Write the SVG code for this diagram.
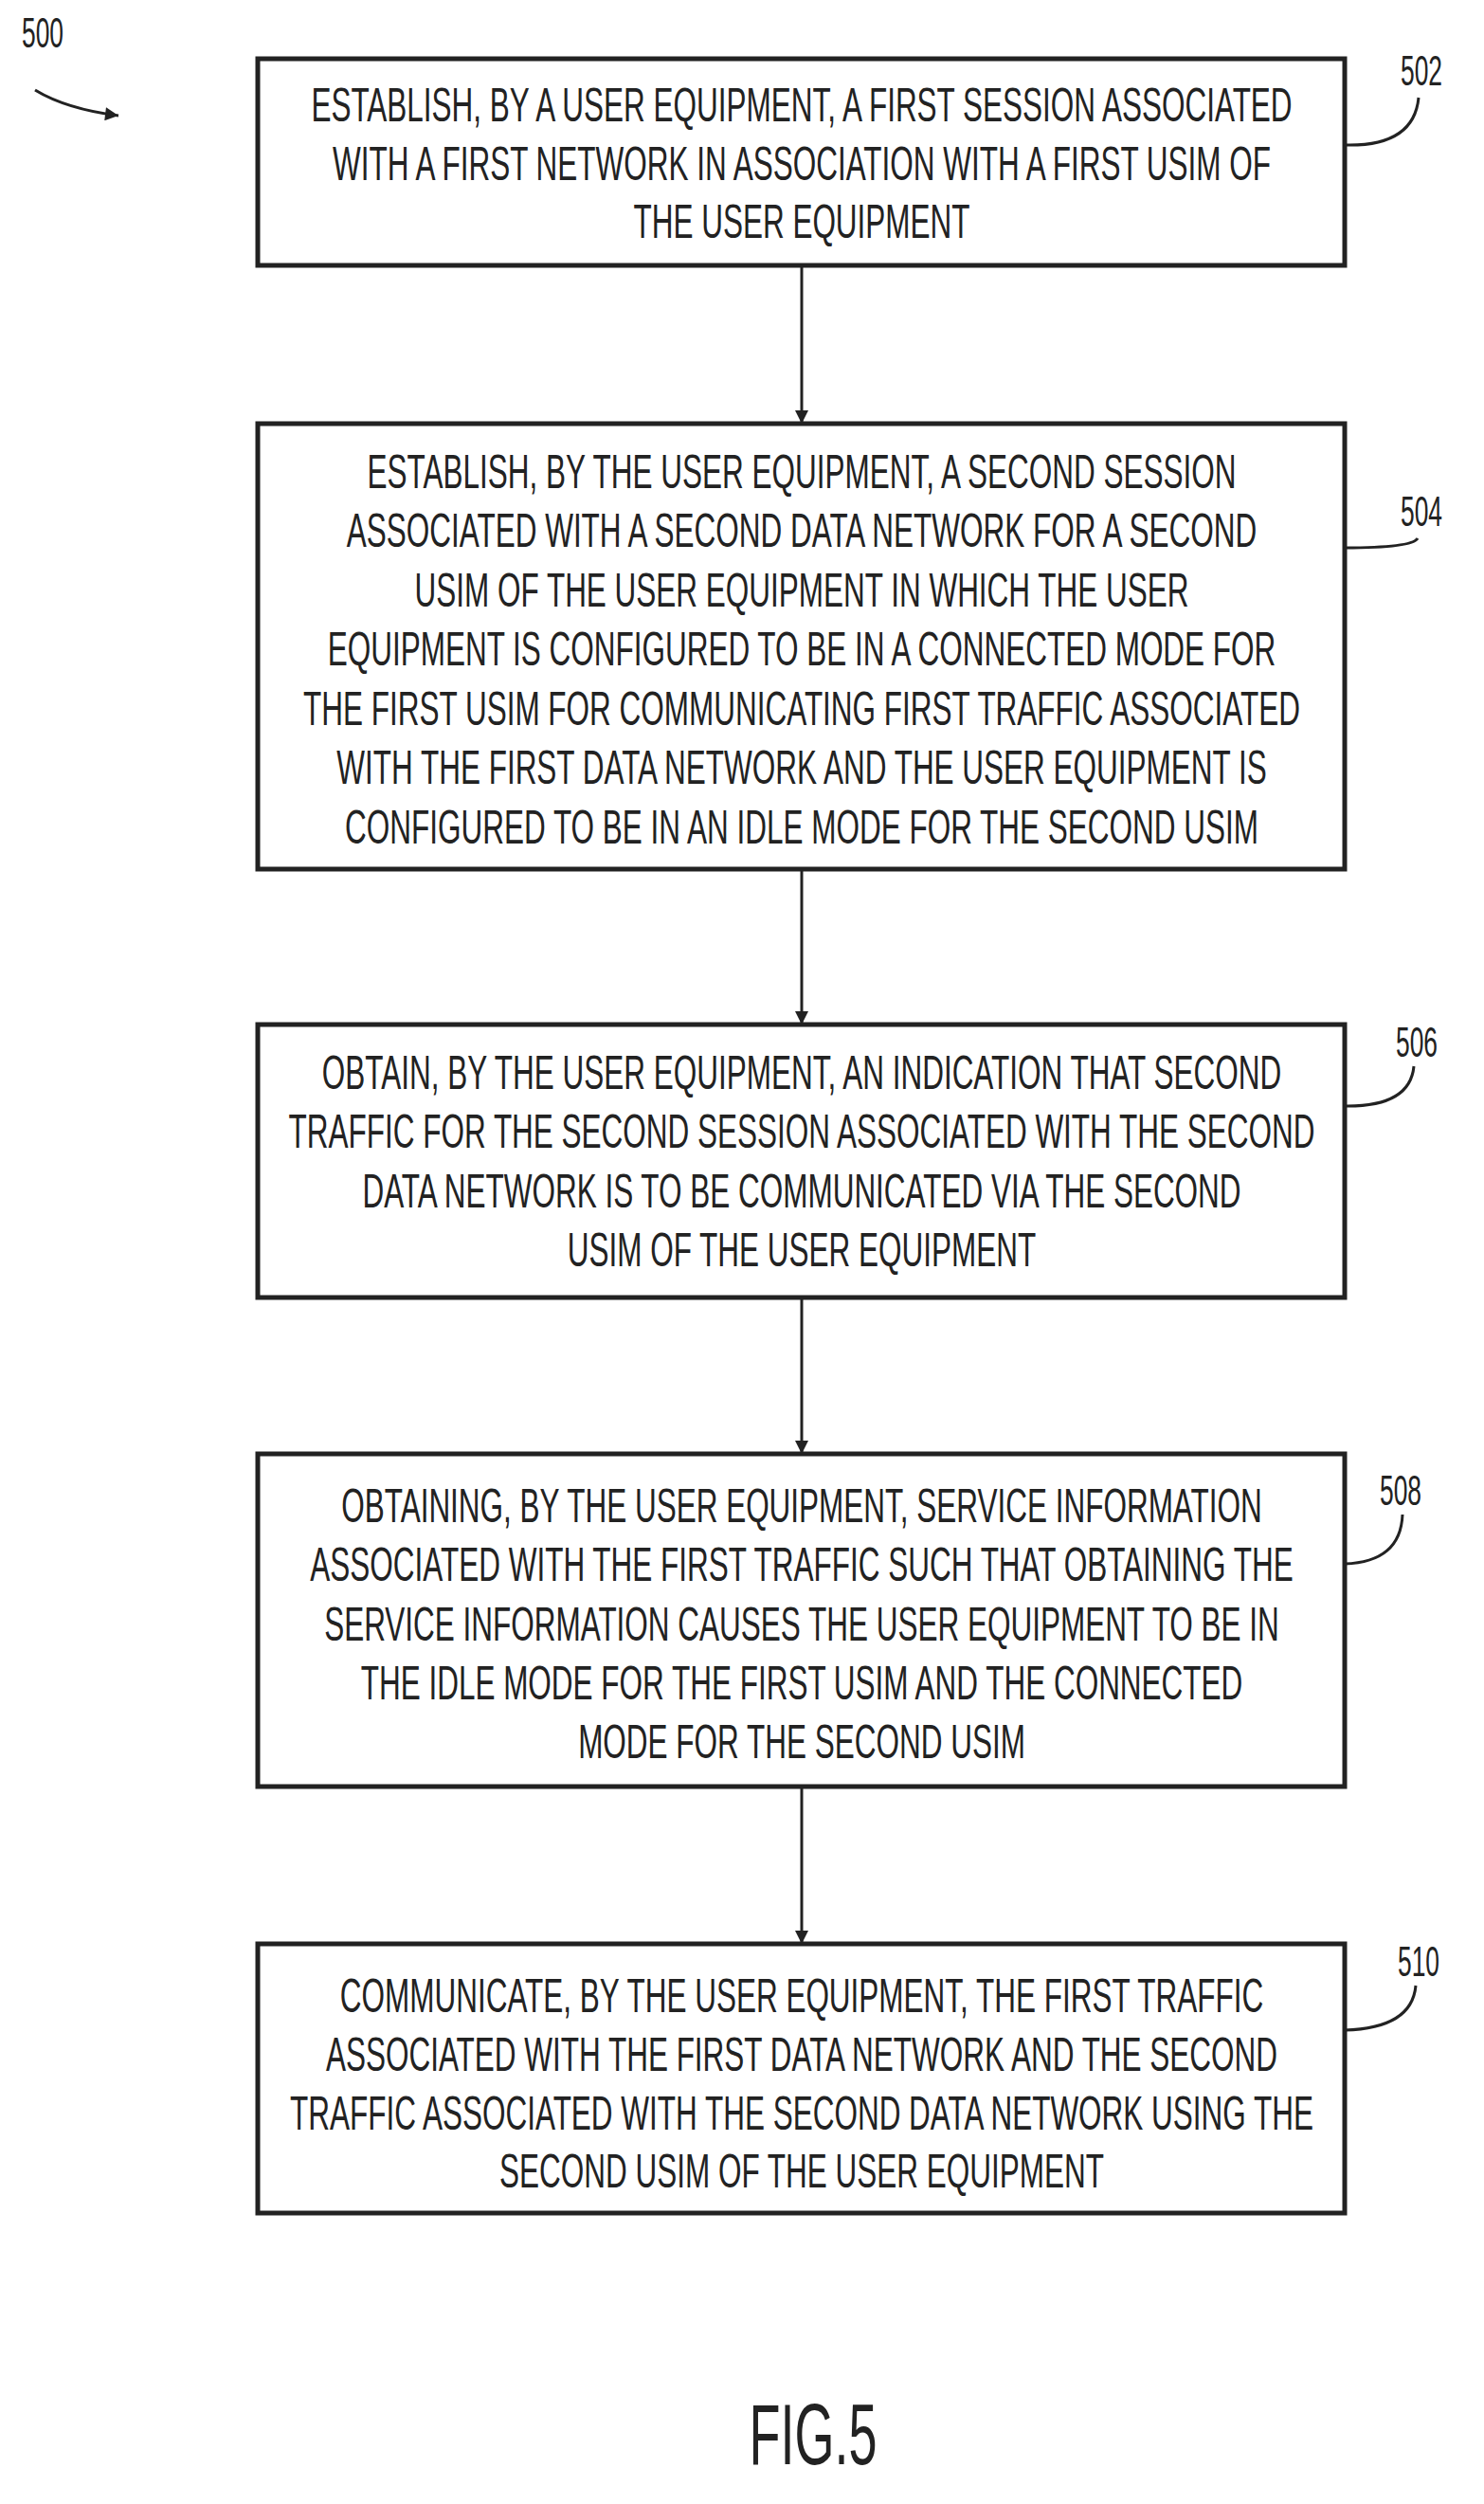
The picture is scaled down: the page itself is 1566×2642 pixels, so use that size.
<svg xmlns="http://www.w3.org/2000/svg" width="1566" height="2642" viewBox="0 0 1566 2642">
<style>
.box{fill:#fff;stroke:#222;stroke-width:5}
.t{font-family:"Liberation Sans",Arial,sans-serif;font-size:50px;fill:#222;text-anchor:middle}
.lab{font-family:"Liberation Sans",Arial,sans-serif;font-size:44px;fill:#222;text-anchor:middle}
.ln{fill:none;stroke:#222;stroke-width:3}
</style>
<defs><marker id="ah2" viewBox="0 0 10 10" refX="10" refY="5" markerWidth="18" markerHeight="14" orient="auto" markerUnits="userSpaceOnUse"><path d="M0,0 L10,5 L0,10 z" fill="#222"/></marker></defs>
<rect width="1566" height="2642" fill="#fff"/>
<g id="ref500"><text transform="translate(45 50) scale(0.6 1)" class="lab">500</text><path class="ln" d="M37,95 Q70,115 125,122" marker-end="url(#ah2)"/></g>
<g id="connectors">
<line class="ln" x1="846" y1="280" x2="846" y2="447" marker-end="url(#ah2)"/>
<line class="ln" x1="846" y1="917" x2="846" y2="1081" marker-end="url(#ah2)"/>
<line class="ln" x1="846" y1="1369" x2="846" y2="1534" marker-end="url(#ah2)"/>
<line class="ln" x1="846" y1="1885" x2="846" y2="2051" marker-end="url(#ah2)"/>
</g>
<g id="n502"><rect class="box" x="272" y="62" width="1147" height="218"/>
<g transform="translate(846 0) scale(0.63 1)"><text class="t" y="128">ESTABLISH, BY A USER EQUIPMENT, A FIRST SESSION ASSOCIATED</text><text class="t" y="190">WITH A FIRST NETWORK IN ASSOCIATION WITH A FIRST USIM OF</text><text class="t" y="251">THE USER EQUIPMENT</text></g>
<text transform="translate(1500 90) scale(0.6 1)" class="lab">502</text><path class="ln" d="M1419,153 Q1492,155 1497,103"/></g>
<g id="n504"><rect class="box" x="272" y="447" width="1147" height="470"/>
<g transform="translate(846 0) scale(0.63 1)"><text class="t" y="515">ESTABLISH, BY THE USER EQUIPMENT, A SECOND SESSION</text><text class="t" y="577">ASSOCIATED WITH A SECOND DATA NETWORK FOR A SECOND</text><text class="t" y="640">USIM OF THE USER EQUIPMENT IN WHICH THE USER</text><text class="t" y="702">EQUIPMENT IS CONFIGURED TO BE IN A CONNECTED MODE FOR</text><text class="t" y="765">THE FIRST USIM FOR COMMUNICATING FIRST TRAFFIC ASSOCIATED</text><text class="t" y="827">WITH THE FIRST DATA NETWORK AND THE USER EQUIPMENT IS</text><text class="t" y="890">CONFIGURED TO BE IN AN IDLE MODE FOR THE SECOND USIM</text></g>
<text transform="translate(1500 555) scale(0.6 1)" class="lab">504</text><path class="ln" d="M1419,578 Q1490,578 1496,568"/></g>
<g id="n506"><rect class="box" x="272" y="1081" width="1147" height="288"/>
<g transform="translate(846 0) scale(0.63 1)"><text class="t" y="1149">OBTAIN, BY THE USER EQUIPMENT, AN INDICATION THAT SECOND</text><text class="t" y="1211">TRAFFIC FOR THE SECOND SESSION ASSOCIATED WITH THE SECOND</text><text class="t" y="1274">DATA NETWORK IS TO BE COMMUNICATED VIA THE SECOND</text><text class="t" y="1336">USIM OF THE USER EQUIPMENT</text></g>
<text transform="translate(1495 1115) scale(0.6 1)" class="lab">506</text><path class="ln" d="M1419,1167 Q1488,1168 1492,1125"/></g>
<g id="n508"><rect class="box" x="272" y="1534" width="1147" height="351"/>
<g transform="translate(846 0) scale(0.63 1)"><text class="t" y="1606">OBTAINING, BY THE USER EQUIPMENT, SERVICE INFORMATION</text><text class="t" y="1668">ASSOCIATED WITH THE FIRST TRAFFIC SUCH THAT OBTAINING THE</text><text class="t" y="1731">SERVICE INFORMATION CAUSES THE USER EQUIPMENT TO BE IN</text><text class="t" y="1793">THE IDLE MODE FOR THE FIRST USIM AND THE CONNECTED</text><text class="t" y="1855">MODE FOR THE SECOND USIM</text></g>
<text transform="translate(1478 1588) scale(0.6 1)" class="lab">508</text><path class="ln" d="M1419,1650 Q1478,1648 1480,1598"/></g>
<g id="n510"><rect class="box" x="272" y="2051" width="1147" height="284"/>
<g transform="translate(846 0) scale(0.63 1)"><text class="t" y="2123">COMMUNICATE, BY THE USER EQUIPMENT, THE FIRST TRAFFIC</text><text class="t" y="2185">ASSOCIATED WITH THE FIRST DATA NETWORK AND THE SECOND</text><text class="t" y="2247">TRAFFIC ASSOCIATED WITH THE SECOND DATA NETWORK USING THE</text><text class="t" y="2308">SECOND USIM OF THE USER EQUIPMENT</text></g>
<text transform="translate(1497 2085) scale(0.6 1)" class="lab">510</text><path class="ln" d="M1419,2142 Q1490,2140 1494,2095"/></g>
<g id="fig"><text transform="translate(858 2600) scale(0.6 1)" class="lab" style="font-size:90px">FIG.5</text></g>
</svg>
